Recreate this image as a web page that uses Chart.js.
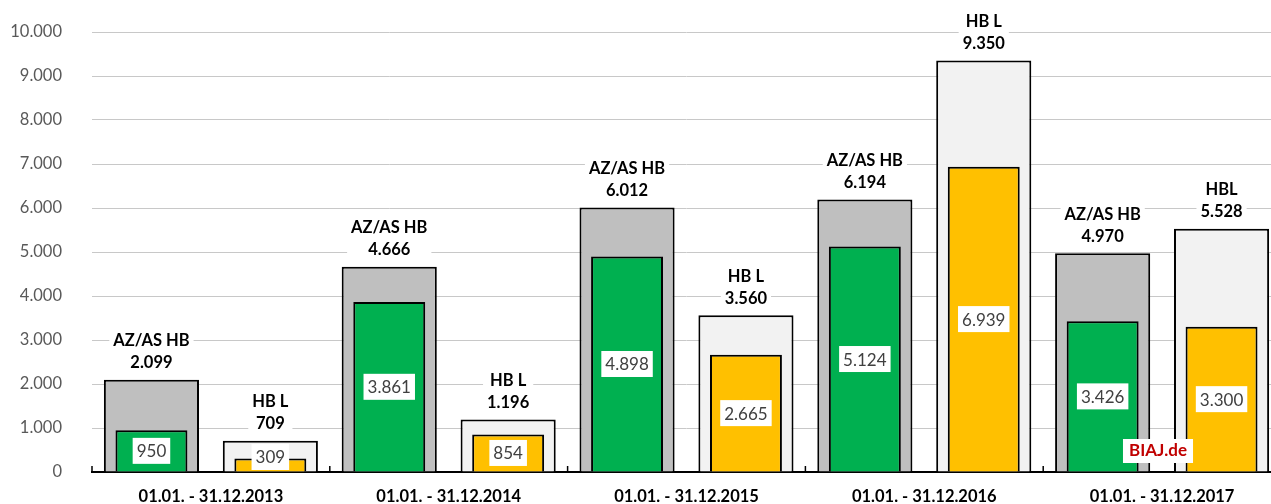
<!DOCTYPE html>
<html><head><meta charset="utf-8">
<script src="https://cdn.jsdelivr.net/npm/chart.js@4"></script>
<style>
html,body{margin:0;padding:0;background:#fff;overflow:hidden;}
#wrap{width:1281px;height:504px;position:relative;}
</style></head>
<body><div id="wrap"><canvas id="c"></canvas></div>
<script>
const categories = ["01.01. - 31.12.2013","01.01. - 31.12.2014","01.01. - 31.12.2015","01.01. - 31.12.2016","01.01. - 31.12.2017"];
const azTotal = [2099, 4666, 6012, 6194, 4970];
const hbTotal = [709, 1196, 3560, 9350, 5528];
const azInner = [950, 3861, 4898, 5124, 3426];
const hbInner = [309, 854, 2665, 6939, 3300];
const azTitles = ["AZ/AS HB","AZ/AS HB","AZ/AS HB","AZ/AS HB","AZ/AS HB"];
const hbTitles = ["HB L","HB L","HB L","HB L","HBL"];
const yTicks = [0,1000,2000,3000,4000,5000,6000,7000,8000,9000,10000];

const FONT = "Lato, 'Open Sans', sans-serif";
const fmt = v => v.toLocaleString('de-DE');

const labelPlugin = {
  id: 'labels',
  afterDatasetsDraw(chart) {
    const ctx = chart.ctx;
    const area = chart.chartArea;
    const xs = chart.scales.x;
    // inward tick marks at category boundaries
    ctx.save();
    ctx.strokeStyle = '#000';
    ctx.lineWidth = 1.5;
    const n = categories.length;
    for (let i = 0; i <= n; i++) {
      let px;
      if (i === 0) px = xs.getPixelForTick(0) - (xs.getPixelForTick(1) - xs.getPixelForTick(0)) / 2;
      else if (i === n) px = xs.getPixelForTick(n - 1) + (xs.getPixelForTick(1) - xs.getPixelForTick(0)) / 2;
      else px = (xs.getPixelForTick(i - 1) + xs.getPixelForTick(i)) / 2;
      ctx.beginPath();
      ctx.moveTo(px, area.bottom);
      ctx.lineTo(px, area.bottom - 6);
      ctx.stroke();
    }
    ctx.restore();
    // inner value boxes
    [0,1].forEach(di => {
      const meta = chart.getDatasetMeta(di);
      const data = chart.data.datasets[di].data;
      meta.data.forEach((bar, i) => {
        const txt = fmt(data[i]);
        ctx.font = "17px " + FONT;
        const w = ctx.measureText(txt).width + 8;
        const h = 26;
        let cy = (bar.y + bar.base) / 2;
        if (cy + h/2 > area.bottom - 2) cy = area.bottom - 2 - h/2;
        ctx.fillStyle = '#fff';
        ctx.fillRect(bar.x - w/2, cy - h/2, w, h);
        ctx.fillStyle = '#404040';
        ctx.textAlign = 'center';
        ctx.textBaseline = 'middle';
        ctx.fillText(txt, bar.x, cy + 1);
      });
    });
    // outer labels
    [[2, azTitles],[3, hbTitles]].forEach(([di, titles]) => {
      const meta = chart.getDatasetMeta(di);
      const data = chart.data.datasets[di].data;
      meta.data.forEach((bar, i) => {
        const lines = [titles[i], fmt(data[i])];
        ctx.font = "bold 16.5px " + FONT;
        const w = Math.max(...lines.map(l => ctx.measureText(l).width)) + 8;
        const y2 = bar.y - 17, y1 = bar.y - 39;
        ctx.fillStyle = '#fff';
        ctx.fillRect(bar.x - w/2, y1 - 11, w, 44);
        ctx.fillStyle = '#000';
        ctx.textAlign = 'center';
        ctx.textBaseline = 'middle';
        ctx.fillText(lines[0], bar.x, y1);
        ctx.fillText(lines[1], bar.x, y2);
      });
    });
    // watermark
    ctx.font = "bold 17px " + FONT;
    const t = "BIAJ.de";
    const tw = ctx.measureText(t).width + 12;
    ctx.fillStyle = '#fff';
    ctx.fillRect(1158 - tw/2, 439, tw, 24);
    ctx.fillStyle = '#C00000';
    ctx.textAlign = 'center';
    ctx.textBaseline = 'middle';
    ctx.fillText(t, 1158, 451);
  }
};

new Chart(document.getElementById('c'), {
  type: 'bar',
  data: {
    labels: categories,
    datasets: [
      { data: azInner, stack: 'a', order: 1, backgroundColor: '#00B050', borderColor: '#000', borderWidth: 2, barPercentage: 0.605, categoryPercentage: 1.0 },
      { data: hbInner, stack: 'b', order: 1, backgroundColor: '#FFC000', borderColor: '#000', borderWidth: 2, barPercentage: 0.605, categoryPercentage: 1.0 },
      { data: azTotal, stack: 'a', order: 2, backgroundColor: '#BFBFBF', borderColor: '#000', borderWidth: 2, barPercentage: 0.8, categoryPercentage: 1.0 },
      { data: hbTotal, stack: 'b', order: 2, backgroundColor: '#F2F2F2', borderColor: '#000', borderWidth: 2, barPercentage: 0.8, categoryPercentage: 1.0 }
    ]
  },
  options: {
    responsive: true,
    maintainAspectRatio: false,
    animation: false,
    events: [],
    layout: { padding: { top: 32, right: 0, left: 0, bottom: 0 } },
    plugins: { legend: { display: false }, tooltip: { enabled: false } },
    scales: {
      x: {
        offset: true,
        grid: { display: false, drawTicks: false },
        border: { display: true, color: '#000', width: 2 },
        ticks: { color: '#000', font: { family: FONT, size: 16.5, weight: 'bold' }, padding: 15, maxRotation: 0 },
        afterFit(s) { s.height = 32; s.paddingLeft = 0; s.paddingRight = 0; }
      },
      y: {
        min: 0, max: 10000, stacked: false,
        afterBuildTicks(s) { s.ticks = yTicks.map(v => ({ value: v })); },
        grid: { color: '#C8C8C8', lineWidth: 1, drawTicks: false },
        border: { display: false },
        ticks: { color: '#595959', font: { family: FONT, size: 16.5 }, padding: 30, callback: v => fmt(v) },
        afterFit(s) { s.width = 92; s.paddingTop = 0; s.paddingBottom = 0; }
      }
    }
  },
  plugins: [labelPlugin]
});
</script></body></html>
